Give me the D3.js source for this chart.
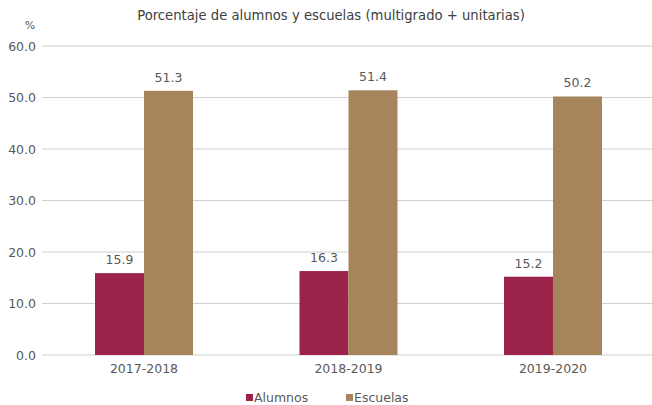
<!DOCTYPE html>
<html><head><meta charset="utf-8">
<script src="https://cdn.jsdelivr.net/npm/d3@7"></script>
<style>body{margin:0;background:#fff}text{font-family:"DejaVu Sans",sans-serif}</style>
</head><body>
<svg id="c" width="652" height="405"></svg>
<script>
const categories = ["2017-2018", "2018-2019", "2019-2020"];
const seriesNames = ["Alumnos", "Escuelas"];
const alumnos = [15.9, 16.3, 15.2];
const escuelas = [51.3, 51.4, 50.2];
const yTicks = [0, 10, 20, 30, 40, 50, 60];
const colors = ["#9B2248", "#A6855C"];

(function () {
const svg = d3.select("#c");
const mLeft = 41.75, mRight = 655.25, mTop = 46, mBottom = 355;
const x = d3.scaleBand().domain(categories).range([mLeft, mRight]).paddingInner(0).paddingOuter(0);
const y = d3.scaleLinear().domain([0, 60]).range([mBottom, mTop]);
const barW = 49;
const series = [alumnos, escuelas];
const textCol = "#595959";

// gridlines
svg.append("g").selectAll("line").data(yTicks).join("line")
  .attr("x1", 42).attr("x2", 652)
  .attr("y1", d => y(d)).attr("y2", d => y(d))
  .attr("stroke", "#d0d0d0").attr("stroke-width", 1.2);

// y labels
svg.append("g").selectAll("text").data(yTicks).join("text")
  .attr("x", 36).attr("y", d => y(d) + 4.5)
  .attr("text-anchor", "end").attr("font-size", 12.5).attr("fill", textCol)
  .text(d => d.toFixed(1));

svg.append("text").attr("x", 30).attr("y", 29).attr("text-anchor", "middle")
  .attr("font-size", 11).attr("fill", textCol).text("%");

// bars
series.forEach((vals, si) => {
  const g = svg.append("g");
  g.selectAll("rect").data(vals).join("rect")
    .attr("x", (d, i) => x(categories[i]) + x.bandwidth() / 2 + (si - 1) * barW)
    .attr("y", d => y(d)).attr("width", barW).attr("height", d => mBottom - y(d))
    .attr("fill", colors[si]);
  g.selectAll("text").data(vals).join("text")
    .attr("x", (d, i) => x(categories[i]) + x.bandwidth() / 2 + (si - 0.5) * barW)
    .attr("y", d => y(d) - 9)
    .attr("text-anchor", "middle").attr("font-size", 12.5).attr("fill", textCol)
    .text(d => d.toFixed(1));
});

// x labels
svg.append("g").selectAll("text").data(categories).join("text")
  .attr("x", d => x(d) + x.bandwidth() / 2).attr("y", 373)
  .attr("text-anchor", "middle").attr("font-size", 12.5).attr("fill", textCol)
  .text(d => d);

// title
svg.append("text").attr("x", 331).attr("y", 20).attr("text-anchor", "middle")
  .attr("font-size", 13.2).attr("fill", "#404040")
  .text("Porcentaje de alumnos y escuelas (multigrado + unitarias)");

// legend
const legX = [246, 346];
seriesNames.forEach((n, i) => {
  svg.append("rect").attr("x", legX[i]).attr("y", 394).attr("width", 7).attr("height", 7).attr("fill", colors[i]);
  svg.append("text").attr("x", legX[i] + 8).attr("y", 401.5).attr("font-size", 12.5).attr("fill", textCol).text(n);
});
})();
</script>
</body></html>
